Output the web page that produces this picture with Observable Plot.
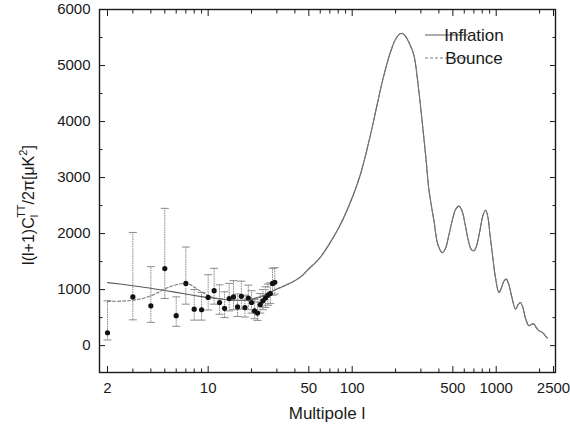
<!DOCTYPE html>
<html><head><meta charset="utf-8">
<script src="https://cdn.jsdelivr.net/npm/d3@7"></script>
<script src="https://cdn.jsdelivr.net/npm/@observablehq/plot@0.6"></script>
<style>body{margin:0;background:#fff} svg{overflow:visible}</style>
</head><body><div id="chart"></div>
<script>
// ---- data ----
const seriesNames = ["Inflation", "Bounce"];

const inflationL = [2, 3, 4, 5, 6, 7, 8, 9, 10, 12, 14, 16, 18, 20, 23, 26, 30, 35, 40, 45, 50, 55, 60, 70, 83, 100, 114, 130, 149, 165, 185, 200, 213, 222, 235, 250, 268, 285, 306, 325, 341, 370, 393, 422, 445, 470, 500, 525, 551, 580, 610, 640, 670, 700, 730, 770, 810, 844, 875, 905, 940, 990, 1045, 1090, 1130, 1175, 1220, 1280, 1362, 1420, 1476, 1530, 1600, 1687, 1760, 1826, 1900, 1977, 2050, 2143, 2200, 2260];
const inflationV = [1125, 1070, 1025, 985, 950, 920, 895, 875, 858, 835, 815, 808, 812, 830, 870, 930, 1010, 1085, 1160, 1250, 1370, 1470, 1575, 1830, 2165, 2640, 3055, 3620, 4300, 4800, 5250, 5470, 5560, 5575, 5520, 5390, 5190, 4720, 4000, 3350, 2780, 2220, 1810, 1660, 1740, 1980, 2280, 2440, 2490, 2400, 2150, 1880, 1720, 1690, 1780, 2050, 2330, 2415, 2300, 1980, 1640, 1200, 948, 1040, 1150, 1187, 1100, 880, 653, 730, 770, 680, 480, 356, 380, 386, 320, 267, 250, 208, 170, 137];

const bounceLowL = [2, 2.5, 3, 3.5, 4, 4.5, 5, 5.5, 6, 6.5, 7, 7.5, 8, 9, 10, 11, 12];
const bounceLowV = [790, 795, 810, 840, 890, 950, 1010, 1055, 1085, 1105, 1108, 1090, 1045, 960, 895, 855, 838];

const dataL  = [2, 3, 4, 5, 6, 7, 8, 9, 10, 11, 12, 13, 14, 15, 16, 17, 18, 19, 20, 21, 22, 23, 24, 25, 26, 27, 28, 29];
const dataV  = [230, 870, 710, 1375, 535, 1110, 650, 640, 860, 980, 770, 665, 840, 870, 690, 880, 680, 850, 770, 620, 580, 730, 800, 850, 900, 930, 1110, 1130];
const dataLo = [100, 460, 415, 840, 345, 740, 455, 455, 635, 740, 560, 500, 620, 640, 520, 650, 510, 640, 580, 480, 450, 580, 640, 680, 720, 750, 900, 920];
const dataHi = [800, 2020, 1410, 2450, 870, 1760, 1000, 950, 1265, 1380, 1085, 960, 1110, 1160, 920, 1150, 900, 1080, 980, 820, 780, 930, 1000, 1050, 1100, 1120, 1380, 1390];

const xMajorTicks = [2, 10, 50, 100, 500, 1000, 2500];
const xMinorTicks = [3, 4, 5, 6, 7, 8, 9, 20, 30, 40, 60, 70, 80, 90, 200, 300, 400, 600, 700, 800, 900, 2000];
const yMajorTicks = [0, 1000, 2000, 3000, 4000, 5000, 6000];
const yMinorTicks = [500, 1500, 2500, 3500, 4500, 5500];

// ---- tables ----
const inflation = inflationL.map((l, i) => ({l, v: inflationV[i], s: seriesNames[0]}));
const bounce = bounceLowL.map((l, i) => ({l, v: bounceLowV[i], s: seriesNames[1]}))
  .concat(inflation.filter(d => d.l > 12).map(d => ({l: d.l, v: d.v, s: seriesNames[1]})));
const points = dataL.map((l, i) => ({l, v: dataV[i], lo: dataLo[i], hi: dataHi[i]}));

const cap = {draw(ctx, size) { const r = Math.sqrt(size / Math.PI); ctx.moveTo(-r, 0); ctx.lineTo(r, 0); }};
const blank = () => "";
const ink = "#1a1a1a";

const plot = Plot.plot({
  width: 570, height: 432,
  marginLeft: 99, marginRight: 15, marginTop: 9, marginBottom: 60,
  style: {fontFamily: "'Liberation Sans', Arial, sans-serif", fontSize: "15px", color: ink, background: "#fff", overflow: "visible"},
  x: {type: "log", domain: [1.76, 2580], label: null},
  y: {domain: [-480, 6000], label: null},
  marks: [
    // error bars and points
    Plot.ruleX(points, {x: "l", y1: "lo", y2: "hi", stroke: "#8c8c8c", strokeWidth: 1, strokeDasharray: "1.6,0.8"}),
    Plot.dot(points, {x: "l", y: "lo", symbol: cap, r: 4, stroke: "#8c8c8c", fill: "none", strokeWidth: 1}),
    Plot.dot(points, {x: "l", y: "hi", symbol: cap, r: 4, stroke: "#8c8c8c", fill: "none", strokeWidth: 1}),
    // model curves
    Plot.line(inflation, {x: "l", y: "v", stroke: "#5a5a5a", strokeWidth: 1.1, curve: "catmull-rom"}),
    Plot.line(bounce, {x: "l", y: "v", stroke: "#7a7a7a", strokeWidth: 1.1, strokeDasharray: "3,2", curve: "catmull-rom"}),
    Plot.dot(points, {x: "l", y: "v", r: 2.6, fill: "#111", stroke: "none"}),
    // frame and inward ticks
    Plot.frame({stroke: ink, strokeWidth: 1.4}),
    Plot.axisX(xMajorTicks, {anchor: "bottom", tickSize: -6, tickFormat: blank, stroke: ink, label: null}),
    Plot.axisX(xMinorTicks, {anchor: "bottom", tickSize: -3.5, tickFormat: blank, stroke: ink, label: null}),
    Plot.axisX(xMajorTicks, {anchor: "top", tickSize: -6, tickFormat: blank, stroke: ink, label: null}),
    Plot.axisX(xMinorTicks, {anchor: "top", tickSize: -3.5, tickFormat: blank, stroke: ink, label: null}),
    Plot.axisY(yMajorTicks, {anchor: "left", tickSize: -6, tickFormat: blank, stroke: ink, label: null}),
    Plot.axisY(yMinorTicks, {anchor: "left", tickSize: -3.5, tickFormat: blank, stroke: ink, label: null}),
    Plot.axisY(yMajorTicks, {anchor: "right", tickSize: -6, tickFormat: blank, stroke: ink, label: null}),
    Plot.axisY(yMinorTicks, {anchor: "right", tickSize: -3.5, tickFormat: blank, stroke: ink, label: null}),
    // tick labels
    Plot.text(xMajorTicks, {x: d => d, text: d => String(d), frameAnchor: "bottom", lineAnchor: "top", dy: 10, fill: ink, fontSize: 15}),
    Plot.axisY(yMajorTicks, {anchor: "left", tickSize: 0, tickPadding: 9, tickFormat: d => String(d), label: null, fill: ink})
  ]
});

document.getElementById("chart").appendChild(plot);

// ---- titles and legend ----
const svg = d3.select(plot);
const font = "'Liberation Sans', Arial, sans-serif";

svg.append("text")
  .attr("x", (99 + 555) / 2).attr("y", 419)
  .attr("text-anchor", "middle")
  .style("font-family", font).style("font-size", "17px").attr("fill", ink)
  .text("Multipole l");

const yl = svg.append("text")
  .attr("transform", "translate(34,205) rotate(-90)")
  .attr("text-anchor", "middle")
  .style("font-family", font).style("font-size", "16px").attr("fill", ink);
yl.append("tspan").text("l(l+1)C");
yl.append("tspan").attr("dy", 4).style("font-size", "11px").text("l");
yl.append("tspan").attr("dx", -3).attr("dy", -13).style("font-size", "11px").text("TT");
yl.append("tspan").attr("dy", 9).text("/2\u03c0[\u03bcK");
yl.append("tspan").attr("dy", -7).style("font-size", "11px").text("2");
yl.append("tspan").attr("dy", 7).text("]");

const leg = svg.append("g");
const legStyles = [{stroke: "#5a5a5a", dash: null}, {stroke: "#7a7a7a", dash: "3,2"}];
seriesNames.forEach((name, i) => {
  const y = 35 + i * 23;
  leg.append("line").attr("x1", 425).attr("x2", 468).attr("y1", y).attr("y2", y)
    .attr("stroke", legStyles[i].stroke).attr("stroke-width", 1.2)
    .attr("stroke-dasharray", legStyles[i].dash);
  leg.append("text").attr("x", 474).attr("y", y).attr("dy", "0.36em")
    .style("font-family", font).style("font-size", "17px").attr("fill", ink).text(name);
});
</script>
</body></html>
